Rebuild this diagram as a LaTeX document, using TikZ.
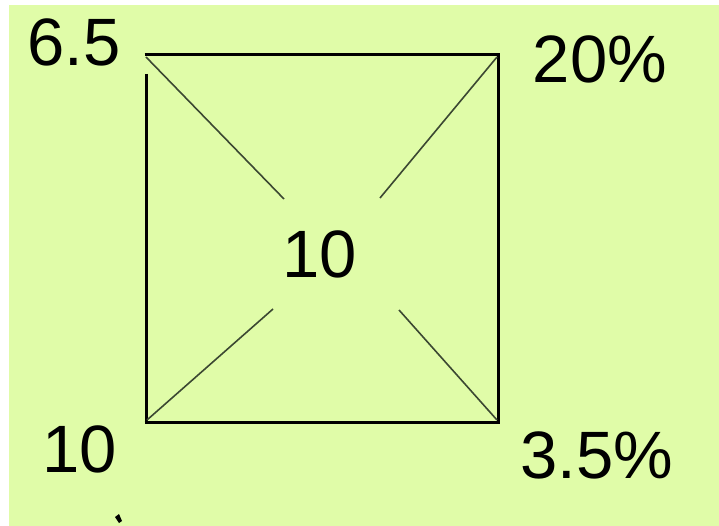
\documentclass[tikz,border=0pt]{standalone}
\usepackage{fontspec}
\setmainfont{Liberation Sans}
\definecolor{bg}{RGB}{224,252,168}
\definecolor{diag}{RGB}{60,72,50}
\begin{document}
\begin{tikzpicture}[x=1pt,y=-1pt,
  lbl/.style={anchor=base,inner sep=0pt,font=\fontsize{67}{70}\selectfont},
  edge/.style={line width=3pt},
  diagline/.style={line width=1.6pt,diag}]
\useasboundingbox (0,0) rectangle (719,526);
\fill[white] (0,0) rectangle (719,526);
\fill[bg] (9,5) rectangle (719,526);
% corners
\coordinate (tl) at (146,55);
\coordinate (tr) at (498,55);
\coordinate (bl) at (146,422);
\coordinate (br) at (498,422);
\coordinate (lt) at (146,74);
% square
\draw[edge] ([xshift=-1.5pt]tl) -- ([xshift=1.5pt]tr);
\draw[edge] (tr) -- (br);
\draw[edge] ([xshift=-1.5pt]bl) -- ([xshift=1.5pt]br);
\draw[edge] (lt) -- (bl);
% diagonal stubs
\coordinate (d1) at (284,199);
\coordinate (d2) at (380,198);
\coordinate (d3) at (273,309);
\coordinate (d4) at (399,310);
\draw[diagline] (146,57) -- (d1);
\draw[diagline] (497,57) -- (d2);
\draw[diagline] (147,420) -- (d3);
\draw[diagline] (497,420) -- (d4);
% labels
\node[lbl] (ctr) at (320,277) {10};
\node[lbl] (la) at (74,66) {6.5};
\node[lbl] (lb) at (600,83) {20\%};
\node[lbl] (lc) at (597,478) {3.5\%};
\node[lbl] (ld) at (80,472) {10};
% small mark
\fill[black] (115,517) -- (119,514) -- (122,521) -- (119,523) -- cycle;
\end{tikzpicture}
\end{document}
